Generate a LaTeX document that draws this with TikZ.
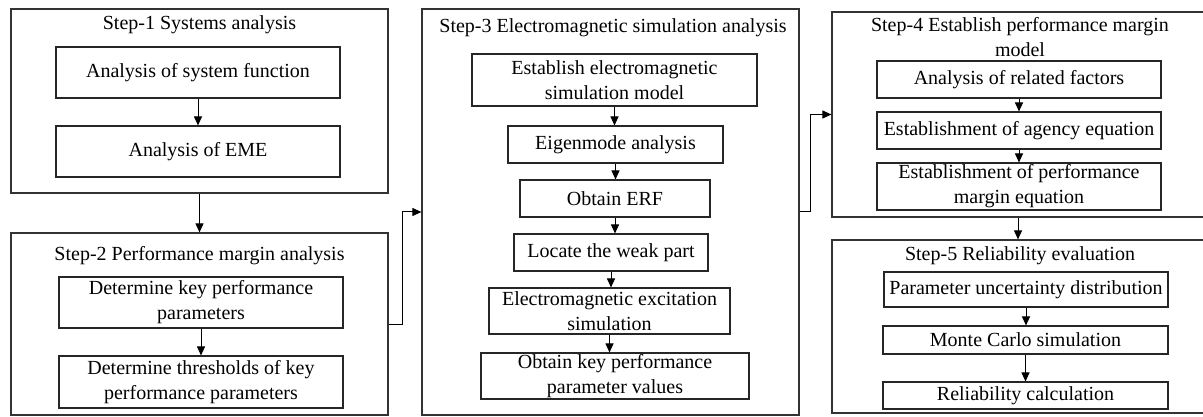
\documentclass[tikz,border=0pt]{standalone}
\usepackage{fontspec}
\setmainfont{Liberation Serif}
\usetikzlibrary{arrows.meta}
\begin{document}
\begin{tikzpicture}[x=1pt,y=-1pt,
  outerbox/.style={draw=black!80,line width=1.2pt,inner sep=0pt,minimum width=#1},
  innerbox/.style={draw=black!85,line width=1.1pt,inner sep=0pt,align=center,font=\fontsize{20}{25}\selectfont},
  ttl/.style={inner sep=0pt,align=center,font=\fontsize{20}{25}\selectfont},
  arr/.style={draw=black,line width=1pt,-{Triangle[length=9pt,width=8pt]}}]
\useasboundingbox (0,0) rectangle (1203,417);
\fill[white] (0,0) rectangle (1203,417);
% outer boxes
\node[outerbox=377pt,minimum height=184pt] (box1) at (199.5,101) {};
\node[outerbox=377pt,minimum height=182pt] (box2) at (199.5,324) {};
\node[outerbox=377pt,minimum height=406pt] (box3) at (610.5,212) {};
\node[outerbox=372pt,minimum height=205pt] (box4) at (1018,114.5) {};
\node[outerbox=372pt,minimum height=173pt] (box5) at (1018,326.5) {};
% titles
\node[ttl] (t1) at (199.5,25) {Step-1 Systems analysis};
\node[ttl] (t2) at (199.5,256) {Step-2 Performance margin analysis};
\node[ttl] (t3) at (613,28) {Step-3 Electromagnetic simulation analysis};
\node[ttl] (t4) at (1020,37) {Step-4 Establish performance margin\\model};
\node[ttl] (t5) at (1020,256) {Step-5 Reliability evaluation};
% step 1
\node[innerbox,minimum width=284pt,minimum height=51pt] (a1) at (198,72.5) {Analysis of system function};
\node[innerbox,minimum width=284pt,minimum height=51pt] (a2) at (198,151.5) {Analysis of EME};
% step 2
\node[innerbox,minimum width=284pt,minimum height=51pt] (b1) at (201,302.5) {Determine key performance\\parameters};
\node[innerbox,minimum width=284pt,minimum height=52pt] (b2) at (201,382) {Determine thresholds of key\\performance parameters};
% step 3
\node[innerbox,minimum width=285pt,minimum height=52pt] (c1) at (614.5,80) {Establish electromagnetic\\simulation model};
\node[innerbox,minimum width=215pt,minimum height=37pt] (c2) at (615.5,144.5) {Eigenmode analysis};
\node[innerbox,minimum width=190pt,minimum height=37pt] (c3) at (615,198.5) {Obtain ERF};
\node[innerbox,minimum width=194pt,minimum height=37pt] (c4) at (611,252.5) {Locate the weak part};
\node[innerbox,minimum width=241pt,minimum height=46pt] (c5) at (609.5,311) {Electromagnetic excitation\\simulation};
\node[innerbox,minimum width=268pt,minimum height=46pt] (c6) at (615,376) {Obtain key performance\\parameter values};
% step 4
\node[innerbox,minimum width=284pt,minimum height=37pt] (d1) at (1019,79.5) {Analysis of related factors};
\node[innerbox,minimum width=284pt,minimum height=37pt] (d2) at (1019,130.5) {Establishment of agency equation};
\node[innerbox,minimum width=284pt,minimum height=47pt] (d3) at (1019,186.5) {Establishment of performance\\margin equation};
% step 5
\node[innerbox,minimum width=284pt,minimum height=35pt] (e1) at (1026,289.5) {Parameter uncertainty distribution};
\node[innerbox,minimum width=285pt,minimum height=28pt] (e2) at (1025.5,340) {Monte Carlo simulation};
\node[innerbox,minimum width=285pt,minimum height=27pt] (e3) at (1025.5,395.5) {Reliability calculation};
% inner arrows
\draw[arr] (a1.south) -- (a1.south |- a2.north);
\draw[arr] (b1.south) -- (b1.south |- b2.north);
\draw[arr] (c1.south) -- (c1.south |- c2.north);
\draw[arr] (c2.south) -- (c2.south |- c3.north);
\draw[arr] (c3.south) -- (c3.south |- c4.north);
\draw[arr] (c4.south) -- (c4.south |- c5.north);
\draw[arr] (c5.south) -- (c5.south |- c6.north);
\draw[arr] (d1.south) -- (d1.south |- d2.north);
\draw[arr] (d2.south) -- (d2.south |- d3.north);
\draw[arr] (e1.south) -- (e1.south |- e2.north);
\draw[arr] (e2.south) -- (e2.south |- e3.north);
% outer arrows
\draw[arr] (box1.south) -- (box1.south |- box2.north);
\draw[arr] (box2.east) -- ++(14,0) |- (box3.west);
\draw[arr] (box3.east) -- ++(11,0) |- (box4.west);
\draw[arr] (box4.south) -- (box4.south |- box5.north);
\end{tikzpicture}
\end{document}
